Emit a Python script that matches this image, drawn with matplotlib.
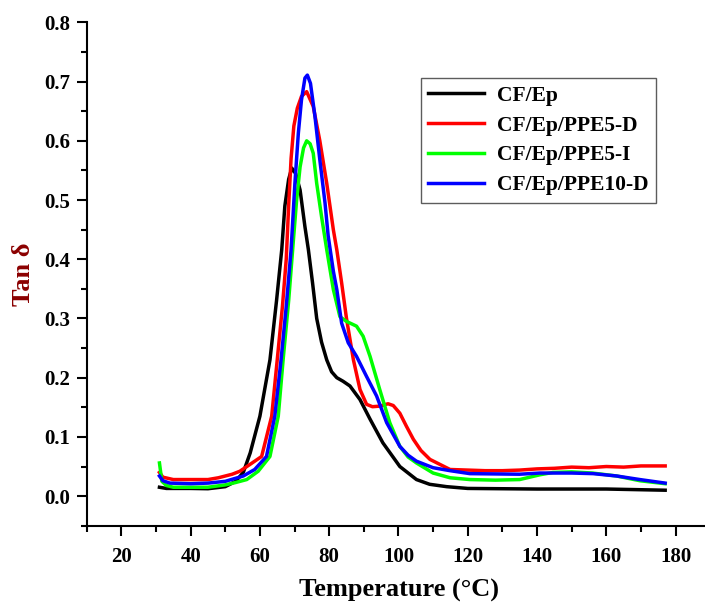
import matplotlib.pyplot as plt
import numpy as np
from matplotlib.ticker import MultipleLocator

plt.rcParams['font.family'] = ['Liberation Serif', 'DejaVu Serif']
plt.rcParams['font.weight'] = 'bold'

# CF/Ep
t_ep = [31, 33, 40, 45, 50, 53, 55.2, 57.2, 60, 62.9, 64.8, 66.3, 67.2, 68.3, 69.2, 70.3, 71.6, 73.0, 74.0,
        75.2, 76.4, 77.8, 79.3, 80.7, 82.2, 84.0, 86, 88.9, 91.8, 95.5, 100.4, 105.2, 109, 113.9, 120, 140, 160, 177]
y_ep = [0.015, 0.013, 0.013, 0.0125, 0.016, 0.025, 0.04, 0.073, 0.135, 0.23, 0.33, 0.416, 0.49, 0.535, 0.554, 0.545, 0.517, 0.455, 0.416,
        0.36, 0.30, 0.26, 0.23, 0.21, 0.20, 0.194, 0.186, 0.163, 0.13, 0.09, 0.05, 0.028, 0.02, 0.016, 0.013, 0.012, 0.012, 0.010]

# CF/Ep/PPE5-D
t_d5 = [31, 32, 35, 45, 48, 52, 54.2, 57.5, 60.5, 63.4, 65.0, 66.5, 67.6, 68.3, 69.0, 69.8, 70.8, 72.0, 73.5,
        75.4, 77.3, 79.3, 81.2, 82.2, 83.6, 85.0, 87.0, 88.9, 90.8, 92.5, 94.6, 97.0, 98.5, 100.4, 102.3, 104.3,
        106.5, 109.1, 114.9, 120, 125, 130, 135, 140, 145, 150, 155, 160, 165, 170, 177]
y_d5 = [0.04, 0.032, 0.028, 0.028, 0.031, 0.037, 0.042, 0.055, 0.067, 0.135, 0.23, 0.32, 0.40, 0.49, 0.57, 0.625, 0.655, 0.675, 0.683,
        0.658, 0.60, 0.528, 0.45, 0.416, 0.36, 0.30, 0.23, 0.18, 0.155, 0.151, 0.152, 0.156, 0.153, 0.14, 0.118, 0.096,
        0.077, 0.062, 0.045, 0.044, 0.043, 0.043, 0.044, 0.046, 0.047, 0.049, 0.048, 0.050, 0.049, 0.051, 0.051]

# CF/Ep/PPE5-I
t_i5 = [31, 31.7, 33, 35, 45, 50, 53, 56.2, 59.5, 62.9, 65.3, 66.7, 68.3, 69.6, 70.6, 71.6, 72.6, 73.5, 74.5, 75.4,
        76.4, 77.8, 79.3, 81.2, 83.1, 85.0, 87.9, 89.8, 91.8, 94.6, 97.5, 100.4, 102.8, 105.2, 110, 114.9,
        120.6, 128, 135, 140.8, 144.6, 150, 156, 163, 169.7, 177]
y_i5 = [0.056, 0.025, 0.018, 0.015, 0.015, 0.019, 0.023, 0.028, 0.042, 0.067, 0.135, 0.23, 0.33, 0.427, 0.50, 0.556, 0.588, 0.60, 0.595, 0.579,
        0.528, 0.472, 0.416, 0.349, 0.303, 0.295, 0.287, 0.27, 0.236, 0.18, 0.124, 0.084, 0.066, 0.056, 0.039, 0.031,
        0.028, 0.027, 0.028, 0.036, 0.04, 0.041, 0.039, 0.034, 0.026, 0.021]

# CF/Ep/PPE10-D
t_d10 = [31, 32, 34, 40, 45, 50, 55.2, 58.5, 61.9, 64.3, 66.1, 67.6, 69.0, 70.1, 71.1, 72, 73, 73.7, 74.6,
         75.9, 77.3, 78.8, 79.7, 81.2, 82.2, 83.6, 85.5, 87.9, 90.8, 93.7, 96.6, 100.4, 102.8, 105.2, 110,
         114.9, 120.6, 135, 140.8, 150, 156.2, 163, 169.7, 177]
y_d10 = [0.034, 0.026, 0.022, 0.021, 0.022, 0.025, 0.034, 0.045, 0.067, 0.135, 0.23, 0.32, 0.416, 0.528, 0.613, 0.669, 0.706, 0.711, 0.697,
         0.641, 0.568, 0.495, 0.44, 0.38, 0.349, 0.292, 0.259, 0.236, 0.202, 0.169, 0.124, 0.084, 0.069, 0.059, 0.048,
         0.043, 0.038, 0.037, 0.039, 0.039, 0.038, 0.034, 0.028, 0.022]

names = ['CF/Ep', 'CF/Ep/PPE5-D', 'CF/Ep/PPE5-I', 'CF/Ep/PPE10-D']
colors = ['#000000', '#ff0000', '#00ff00', '#0000ff']

fig = plt.figure(figsize=(7.05, 6.05), dpi=100)
ax = fig.add_axes([0.123, 0.131, 0.877, 0.832])

series = [(t_ep, y_ep), (t_d5, y_d5), (t_i5, y_i5), (t_d10, y_d10)]
for (t, y), name, c in zip(series, names, colors):
    ax.plot(t, y, color=c, lw=2.5, label=name, solid_joinstyle='round')

ax.set_xlim(10, 188.5)
ax.set_ylim(-0.05, 0.8)
ax.set_xticks(np.arange(20, 181, 20))
ax.set_yticks(np.arange(0, 0.81, 0.1))
ax.xaxis.set_minor_locator(MultipleLocator(10))
ax.yaxis.set_minor_locator(MultipleLocator(0.05))
ax.yaxis.set_major_formatter(plt.FuncFormatter(lambda v, p: f'{v:.1f}'))

ax.spines['top'].set_visible(False)
ax.spines['right'].set_visible(False)
for s in ['left', 'bottom']:
    ax.spines[s].set_linewidth(1.5)
ax.tick_params(which='major', direction='out', length=7, width=1.5, labelsize=15)
ax.tick_params(axis='y', which='major', pad=5)
ax.tick_params(axis='x', which='major', pad=8)
ax.tick_params(which='minor', direction='out', length=4, width=1.5)

ax.set_xlabel('Temperature (°C)', fontsize=19, fontweight='bold')
ax.set_ylabel('Tan δ', fontsize=19, fontweight='bold', color='#8b0000')
ax.xaxis.set_label_coords(0.505, -0.105)
ax.yaxis.set_label_coords(-0.084, 0.5)

leg = ax.legend(loc='upper left', bbox_to_anchor=(0.540, 0.889), fontsize=15.5, frameon=True,
                fancybox=False, edgecolor='#333333', handlelength=2.6, labelspacing=0.45,
                borderpad=0.35, handletextpad=0.6, borderaxespad=0)
leg.get_frame().set_linewidth(1.0)

fig.savefig('out.png', dpi=100)
